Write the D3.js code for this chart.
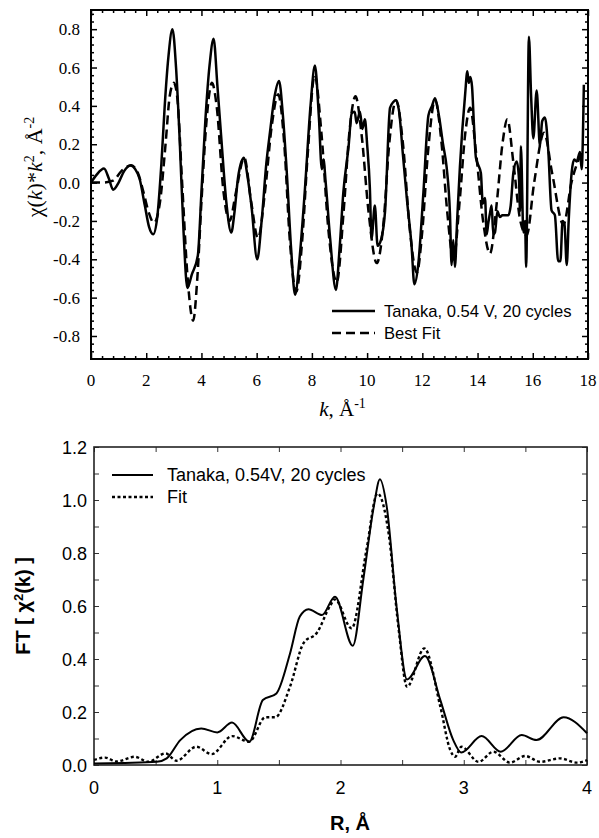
<!DOCTYPE html>
<html>
<head>
<meta charset="utf-8">
<script src="https://cdn.jsdelivr.net/npm/d3@7"></script>
<style>
  body { margin: 0; background: #fff; }
  svg { display: block; }
</style>
</head>
<body>
<div id="chart"></div>
<script>
// ---- top panel data: chi(k)*k^2 ----
const kData = [0,0.2,0.47,0.65,0.8,1.0,1.2,1.44,1.6,1.76,1.95,2.1,2.25,2.4,2.55,2.67,2.8,2.95,3.08,3.21,3.35,3.49,3.65,3.87,4.0,4.14,4.3,4.44,4.58,4.72,4.9,5.08,5.2,5.32,5.45,5.54,5.65,5.81,6.02,6.18,6.35,6.48,6.65,6.81,6.95,7.09,7.25,7.39,7.55,7.75,7.95,8.11,8.25,8.36,8.42,8.5,8.66,8.87,9.0,9.14,9.33,9.44,9.55,9.62,9.74,9.83,9.92,10.0,10.1,10.16,10.28,10.38,10.5,10.65,10.83,10.95,11.03,11.15,11.3,11.45,11.61,11.71,11.85,12.04,12.22,12.35,12.46,12.6,12.75,12.88,13.0,13.06,13.12,13.18,13.26,13.36,13.55,13.63,13.68,13.74,13.8,13.87,13.94,14.03,14.12,14.19,14.27,14.33,14.39,14.45,14.51,14.57,14.63,14.72,14.81,14.9,15.0,15.12,15.2,15.3,15.42,15.5,15.54,15.57,15.66,15.72,15.76,15.86,15.94,16.02,16.14,16.26,16.34,16.44,16.56,16.68,16.8,16.92,17.0,17.08,17.15,17.23,17.3,17.41,17.5,17.59,17.71,17.77,17.85];
const chiData = [0,0.04,0.073,0.02,-0.037,0.0,0.06,0.089,0.07,0.02,-0.12,-0.23,-0.27,-0.18,0.1,0.40,0.65,0.80,0.6,0.23,-0.25,-0.55,-0.48,-0.38,-0.05,0.32,0.62,0.75,0.5,0.23,-0.1,-0.26,-0.15,0.02,0.11,0.13,0.05,-0.12,-0.40,-0.2,0.1,0.26,0.45,0.53,0.35,0.055,-0.35,-0.585,-0.4,-0.03,0.4,0.61,0.35,0.07,0.12,0.0,-0.29,-0.56,-0.35,-0.05,0.19,0.36,0.37,0.31,0.37,0.28,0.33,0.2,-0.03,-0.29,-0.12,-0.33,-0.3,-0.15,0.39,0.42,0.43,0.38,0.14,-0.1,-0.33,-0.53,-0.43,-0.05,0.35,0.40,0.44,0.35,0.2,0.08,-0.16,-0.43,-0.30,-0.44,-0.2,0.08,0.46,0.58,0.52,0.55,0.5,0.3,0.13,0.09,0.05,-0.11,-0.08,-0.27,-0.21,-0.16,-0.12,-0.27,-0.26,-0.15,-0.18,-0.17,-0.17,-0.17,-0.12,0.055,0.11,0.02,-0.15,0.19,-0.26,-0.2,-0.44,0.76,0.45,0.23,0.48,0.19,0.32,0.34,0.17,-0.145,-0.17,-0.41,-0.41,-0.2,-0.22,-0.43,-0.2,0.055,0.12,0.11,0.16,0.07,0.51];

const kFit = [0,0.4,0.8,1.1,1.45,1.7,1.9,2.1,2.28,2.5,2.7,2.85,3.0,3.12,3.3,3.5,3.7,3.85,4.0,4.2,4.38,4.55,4.8,5.02,5.25,5.55,5.8,6.05,6.3,6.55,6.78,7.0,7.2,7.43,7.65,7.85,8.1,8.35,8.6,8.9,9.15,9.35,9.58,9.8,10.05,10.35,10.6,10.8,11.05,11.3,11.55,11.8,12.0,12.2,12.46,12.7,12.9,13.13,13.35,13.55,13.73,13.95,14.2,14.45,14.7,14.9,15.08,15.3,15.55,15.78,16.05,16.41,16.7,17.11,17.4,17.75];
const chiFit = [0,0.0,0.01,0.06,0.09,0.05,-0.05,-0.16,-0.21,-0.1,0.2,0.45,0.52,0.45,0.0,-0.5,-0.72,-0.5,-0.1,0.35,0.52,0.4,-0.05,-0.20,-0.05,0.13,-0.1,-0.29,-0.05,0.3,0.46,0.2,-0.3,-0.57,-0.3,0.15,0.56,0.25,-0.25,-0.52,-0.15,0.25,0.45,0.25,-0.15,-0.42,-0.2,0.2,0.43,0.2,-0.25,-0.47,-0.25,0.15,0.43,0.2,-0.15,-0.40,-0.1,0.25,0.39,0.15,-0.2,-0.37,-0.1,0.2,0.33,0.1,-0.2,-0.275,0.0,0.26,0.05,-0.22,0.0,0.15];

const topXTicks = [0,2,4,6,8,10,12,14,16,18];
const topYTicks = [-0.8,-0.6,-0.4,-0.2,0.0,0.2,0.4,0.6,0.8];
const topLegend = ["Tanaka, 0.54 V, 20 cycles", "Best Fit"];

// ---- bottom panel data: FT magnitude ----
const rData = [0,0.25,0.51,0.59,0.70,0.87,1.0,1.12,1.26,1.37,1.48,1.59,1.67,1.74,1.85,1.955,2.10,2.185,2.27,2.32,2.375,2.455,2.54,2.685,2.81,2.915,2.98,3.145,3.30,3.47,3.59,3.81,4.0];
const ftData = [0.006,0.008,0.012,0.025,0.094,0.138,0.123,0.16,0.088,0.245,0.27,0.42,0.56,0.588,0.566,0.635,0.45,0.70,0.975,1.078,0.975,0.597,0.323,0.411,0.245,0.094,0.047,0.109,0.05,0.113,0.094,0.18,0.12];

const rFit = [0,0.09,0.18,0.33,0.44,0.58,0.67,0.83,0.955,1.12,1.26,1.39,1.47,1.59,1.70,1.81,1.915,1.955,2.09,2.21,2.30,2.39,2.47,2.54,2.68,2.81,2.89,2.93,2.98,3.12,3.24,3.375,3.50,3.62,3.78,3.92,4.0];
const ftFit = [0.019,0.028,0.013,0.031,0.012,0.044,0.016,0.069,0.041,0.109,0.088,0.18,0.18,0.295,0.46,0.50,0.60,0.625,0.516,0.81,1.025,0.875,0.52,0.295,0.44,0.22,0.057,0.031,0.069,0.012,0.05,0.009,0.034,0.012,0.025,0.009,0.018];

const botXTicks = [0,1,2,3,4];
const botYTicks = [0.0,0.2,0.4,0.6,0.8,1.0,1.2];
const botLegend = ["Tanaka, 0.54V, 20 cycles", "Fit"];

const W = 599, H = 838;
const svg = d3.select("#chart").append("svg")
  .attr("width", W).attr("height", H);

// ================= top panel =================
const serif = "'Liberation Serif', 'Times New Roman', serif";
const sans = "'Liberation Sans', Arial, sans-serif";

const t = { left: 91, right: 588, top: 10, bottom: 359 };
const x1 = d3.scaleLinear().domain([0, 18]).range([t.left, t.right]);
const y1 = d3.scaleLinear().domain([-0.92, 0.9]).range([t.bottom, t.top]);

const g1 = svg.append("g");

// inward ticks on all four sides
function tickSet(g, axisFn, scale, values, size, pos) {
  g.append("g")
    .attr("transform", pos)
    .call(axisFn(scale).tickValues(values).tickSize(size).tickFormat(""))
    .call(s => s.select(".domain").remove())
    .call(s => s.selectAll("line").attr("stroke", "#000").attr("stroke-width", 1.5));
}
const kMinor = d3.range(0, 18.01, 0.4).filter(v => Math.abs(v / 2 - Math.round(v / 2)) > 0.01);
const cMinor = d3.range(-0.88, 0.89, 0.04).filter(v => Math.abs(v / 0.2 - Math.round(v / 0.2)) > 0.01);

tickSet(g1, d3.axisTop, x1, topXTicks, 6, `translate(0,${t.bottom})`);
tickSet(g1, d3.axisTop, x1, kMinor, 3, `translate(0,${t.bottom})`);
tickSet(g1, d3.axisBottom, x1, topXTicks, 6, `translate(0,${t.top})`);
tickSet(g1, d3.axisBottom, x1, kMinor, 3, `translate(0,${t.top})`);
tickSet(g1, d3.axisRight, y1, topYTicks, 6, `translate(${t.left},0)`);
tickSet(g1, d3.axisRight, y1, cMinor, 3, `translate(${t.left},0)`);
tickSet(g1, d3.axisLeft, y1, topYTicks, 6, `translate(${t.right},0)`);
tickSet(g1, d3.axisLeft, y1, cMinor, 3, `translate(${t.right},0)`);

g1.append("rect")
  .attr("x", t.left).attr("y", t.top)
  .attr("width", t.right - t.left).attr("height", t.bottom - t.top)
  .attr("fill", "none").attr("stroke", "#000").attr("stroke-width", 2);

// tick labels
g1.selectAll("text.xl").data(topXTicks).enter().append("text")
  .attr("x", d => x1(d)).attr("y", 386)
  .attr("text-anchor", "middle")
  .style("font-family", serif).style("font-size", "17px")
  .text(d => d);
g1.selectAll("text.yl").data(topYTicks).enter().append("text")
  .attr("x", 80).attr("y", d => y1(d) + 6)
  .attr("text-anchor", "end")
  .style("font-family", serif).style("font-size", "17px")
  .text(d => d3.format(".1f")(d).replace("−", "-"));

// axis titles
const xt1 = g1.append("text")
  .attr("x", (t.left + t.right) / 2 + 3).attr("y", 416)
  .attr("text-anchor", "middle")
  .style("font-family", serif).style("font-size", "21px");
xt1.append("tspan").style("font-style", "italic").text("k");
xt1.append("tspan").text(", Å");
xt1.append("tspan").attr("dy", -8).style("font-size", "14px").text("-1");

const yt1 = g1.append("text")
  .attr("transform", `translate(42,167) rotate(-90)`)
  .attr("text-anchor", "middle")
  .style("font-family", serif).style("font-size", "22px");
yt1.append("tspan").text("χ(");
yt1.append("tspan").style("font-style", "italic").text("k");
yt1.append("tspan").text(")*");
yt1.append("tspan").style("font-style", "italic").text("k");
yt1.append("tspan").attr("dy", -8).style("font-size", "14px").text("2");
yt1.append("tspan").attr("dy", 8).text(", Å");
yt1.append("tspan").attr("dy", -8).style("font-size", "14px").text("-2");

// curves
const line1 = d3.line().x(d => x1(d[0])).y(d => y1(d[1])).curve(d3.curveMonotoneX);
g1.append("path")
  .datum(d3.zip(kFit, chiFit))
  .attr("d", line1)
  .attr("fill", "none").attr("stroke", "#000").attr("stroke-width", 2.5)
  .attr("stroke-dasharray", "9,5");
g1.append("path")
  .datum(d3.zip(kData, chiData))
  .attr("d", line1)
  .attr("fill", "none").attr("stroke", "#000").attr("stroke-width", 2.5)
  .attr("stroke-linejoin", "round");

// legend
const lg1 = g1.append("g");
[0, 1].forEach(i => {
  lg1.append("line")
    .attr("x1", 332).attr("x2", 375)
    .attr("y1", 311 + i * 22).attr("y2", 311 + i * 22)
    .attr("stroke", "#000").attr("stroke-width", 2.5)
    .attr("stroke-dasharray", i ? "9,5" : null);
  lg1.append("text")
    .attr("x", 384).attr("y", 317 + i * 22)
    .style("font-family", sans).style("font-size", "16.6px")
    .text(topLegend[i]);
});

// ================= bottom panel =================
const b = { left: 94, right: 587, top: 447, bottom: 765 };
const x2 = d3.scaleLinear().domain([0, 4]).range([b.left, b.right]);
const y2 = d3.scaleLinear().domain([0, 1.2]).range([b.bottom, b.top]);

const g2 = svg.append("g");
const rTicks = d3.range(0, 4.01, 0.5);
const fTicks = d3.range(0, 1.21, 0.1);
tickSet(g2, d3.axisTop, x2, rTicks, 5, `translate(0,${b.bottom})`);
tickSet(g2, d3.axisBottom, x2, rTicks, 5, `translate(0,${b.top})`);
tickSet(g2, d3.axisRight, y2, fTicks, 5, `translate(${b.left},0)`);
tickSet(g2, d3.axisLeft, y2, fTicks, 5, `translate(${b.right},0)`);
g2.selectAll("line").attr("stroke-width", 1).attr("stroke", "#333");

g2.append("rect")
  .attr("x", b.left).attr("y", b.top)
  .attr("width", b.right - b.left).attr("height", b.bottom - b.top)
  .attr("fill", "none").attr("stroke", "#222").attr("stroke-width", 1.6);

g2.selectAll("text.xl").data(botXTicks).enter().append("text")
  .attr("x", d => x2(d)).attr("y", 794)
  .attr("text-anchor", "middle")
  .style("font-family", sans).style("font-size", "18px")
  .text(d => d);
g2.selectAll("text.yl").data(botYTicks).enter().append("text")
  .attr("x", 87).attr("y", d => y2(d) + 6.5)
  .attr("text-anchor", "end")
  .style("font-family", sans).style("font-size", "18px")
  .text(d => d3.format(".1f")(d));

g2.append("text")
  .attr("x", 350).attr("y", 830)
  .attr("text-anchor", "middle")
  .style("font-family", sans).style("font-size", "20px").style("font-weight", "bold")
  .text("R, Å");

const yt2 = g2.append("text")
  .attr("transform", `translate(30,${(b.top + b.bottom) / 2}) rotate(-90)`)
  .attr("text-anchor", "middle")
  .style("font-family", sans).style("font-size", "20px").style("font-weight", "bold");
yt2.append("tspan").text("FT [ χ");
yt2.append("tspan").attr("dy", -7).style("font-size", "13px").text("2");
yt2.append("tspan").attr("dy", 7).text("(k) ]");

const line2 = d3.line().x(d => x2(d[0])).y(d => y2(d[1])).curve(d3.curveMonotoneX);
g2.append("path")
  .datum(d3.zip(rFit, ftFit))
  .attr("d", line2)
  .attr("fill", "none").attr("stroke", "#000").attr("stroke-width", 2.4)
  .attr("stroke-dasharray", "3,2.5");
g2.append("path")
  .datum(d3.zip(rData, ftData))
  .attr("d", line2)
  .attr("fill", "none").attr("stroke", "#000").attr("stroke-width", 2);

const lg2 = g2.append("g");
[0, 1].forEach(i => {
  lg2.append("line")
    .attr("x1", 112).attr("x2", 153)
    .attr("y1", 475 + i * 22).attr("y2", 475 + i * 22)
    .attr("stroke", "#000").attr("stroke-width", i ? 2.4 : 2)
    .attr("stroke-dasharray", i ? "3,2.5" : null);
  lg2.append("text")
    .attr("x", 167).attr("y", 481 + i * 22)
    .style("font-family", sans).style("font-size", "18px")
    .text(botLegend[i]);
});
</script>
</body>
</html>
